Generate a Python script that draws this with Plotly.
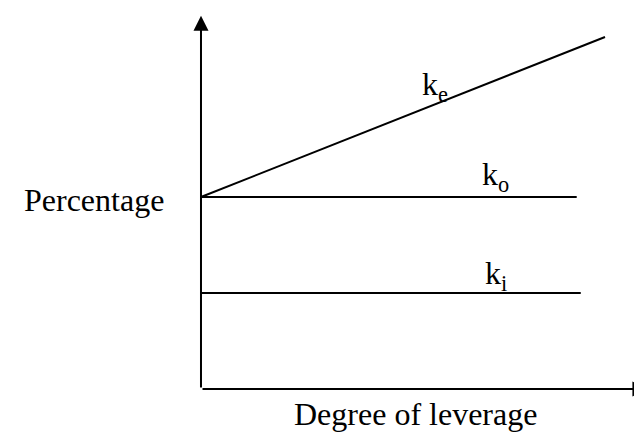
import plotly.graph_objects as go

# degree of leverage (x) and percentage (y), arbitrary units
leverage_ke = [0, 10]
ke = [6, 11]

leverage_ko = [0, 9.3]
ko = [6, 6]

leverage_ki = [0, 9.4]
ki = [3, 3]

line_names = ["k<sub>e</sub>", "k<sub>o</sub>", "k<sub>i</sub>"]
label_x = [5.8, 7.28, 7.3]
label_y = [9.45, 6.65, 3.55]

serif = "Liberation Serif, Times New Roman, serif"

fig = go.Figure()

for xs, ys in [(leverage_ke, ke), (leverage_ko, ko), (leverage_ki, ki)]:
    fig.add_trace(go.Scatter(x=xs, y=ys, mode="lines",
                             line=dict(color="black", width=2),
                             showlegend=False, hoverinfo="skip"))

# axes drawn as arrows
fig.add_annotation(x=0, y=11.66, ax=0, ay=0, xref="x", yref="y",
                   axref="x", ayref="y", showarrow=True, arrowhead=2,
                   arrowwidth=2, arrowsize=1.5, arrowcolor="black", text="")
fig.add_annotation(x=11.05, y=0, ax=0, ay=0, xref="x", yref="y",
                   axref="x", ayref="y", showarrow=True, arrowhead=2,
                   arrowwidth=2, arrowsize=1.5, arrowcolor="black", text="")

for name, lx, ly in zip(line_names, label_x, label_y):
    fig.add_annotation(x=lx, y=ly, text=name, showarrow=False,
                       font=dict(family=serif, size=32, color="black"))

fig.add_annotation(x=-2.65, y=5.9, text="Percentage", showarrow=False,
                   font=dict(family=serif, size=32, color="black"))
fig.add_annotation(x=5.3, y=-0.78, text="Degree of leverage", showarrow=False,
                   font=dict(family=serif, size=32, color="black"))

fig.update_layout(
    width=642, height=434,
    margin=dict(l=0, r=0, t=0, b=0),
    paper_bgcolor="white", plot_bgcolor="white",
    xaxis=dict(range=[-4.777, 11.114], visible=False, fixedrange=True),
    yaxis=dict(range=[-1.656, 11.906], visible=False, fixedrange=True),
)

fig.write_html("out.html")
